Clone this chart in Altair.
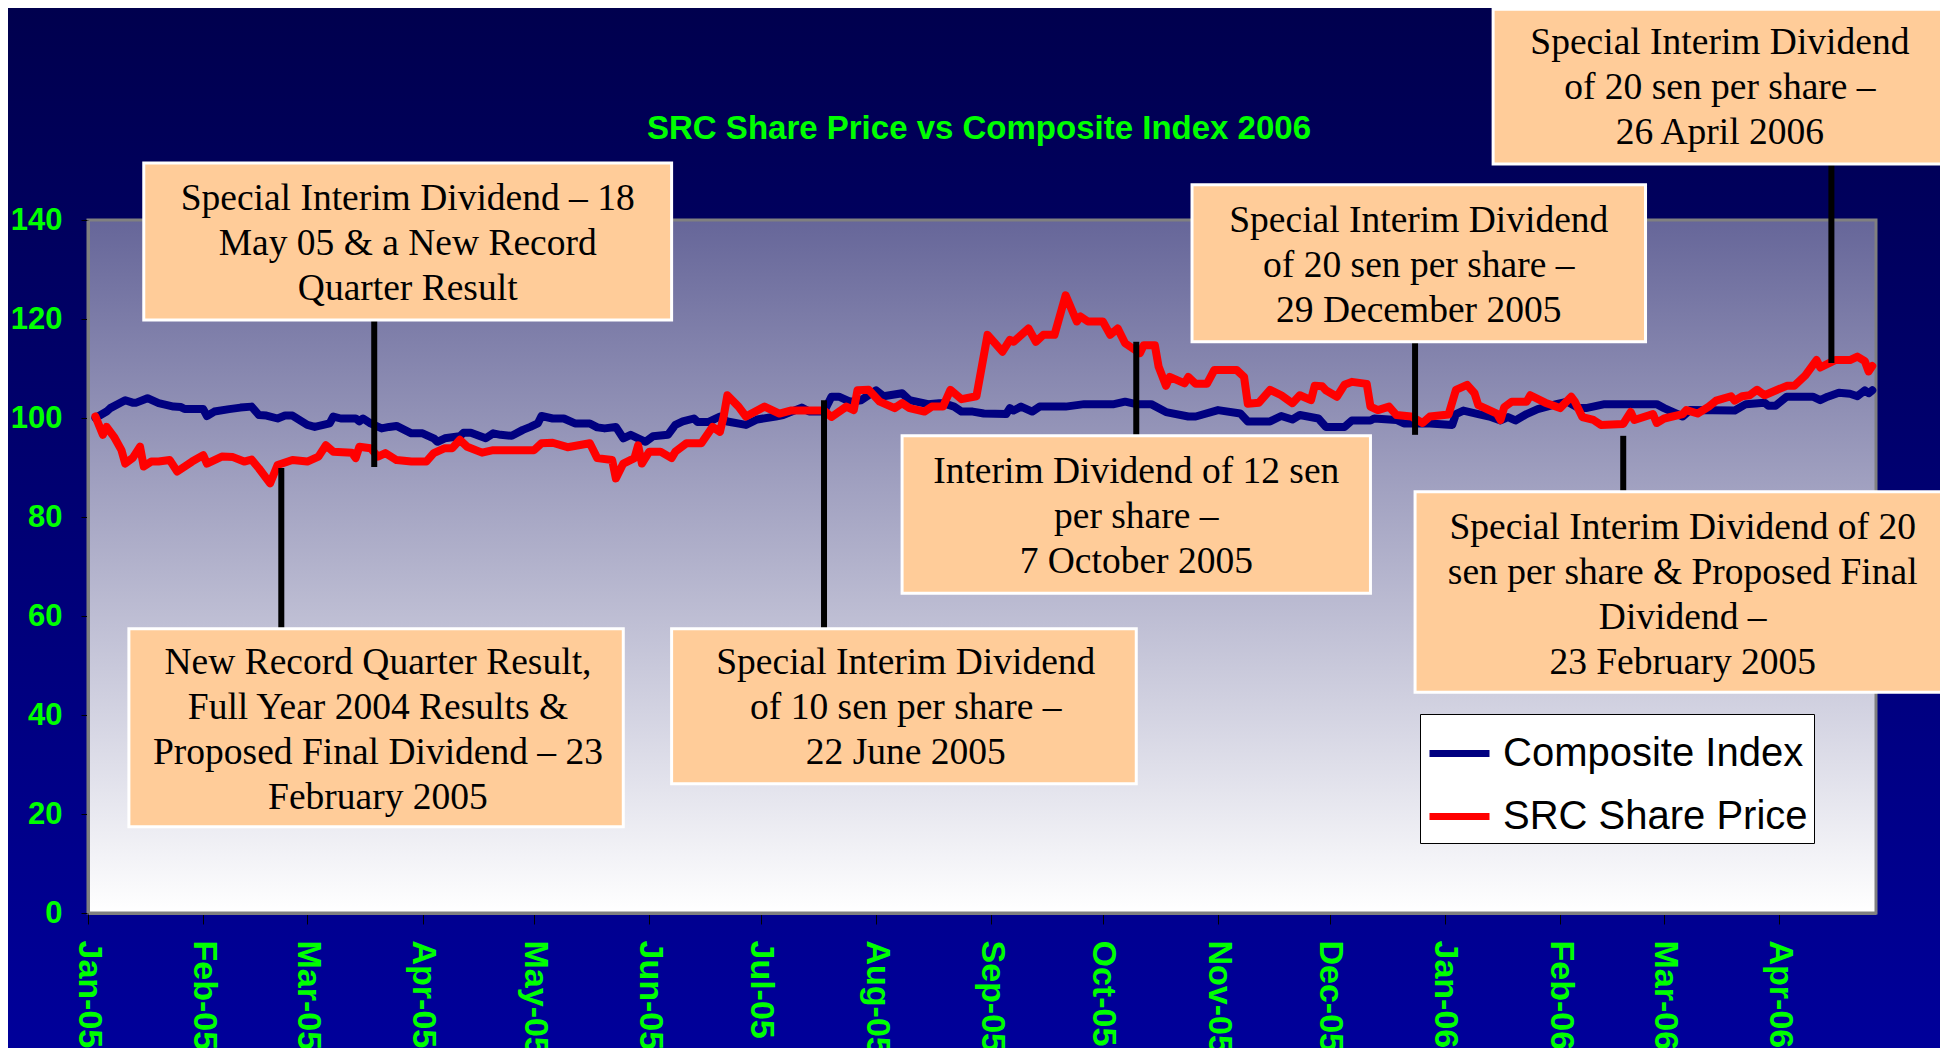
import altair as alt
import pandas as pd

# ---------------- data ----------------
CI_DATES = [
    "2005-01-03", "2005-01-06", "2005-01-07", "2005-01-11", "2005-01-13", "2005-01-14", "2005-01-17",
    "2005-01-20", "2005-01-24", "2005-01-26", "2005-01-27", "2005-02-01", "2005-02-02", "2005-02-04",
    "2005-02-08", "2005-02-11", "2005-02-14", "2005-02-16", "2005-02-18", "2005-02-21", "2005-02-23",
    "2005-02-25", "2005-03-01", "2005-03-03", "2005-03-07", "2005-03-08", "2005-03-10", "2005-03-14",
    "2005-03-15", "2005-03-16", "2005-03-18", "2005-03-21", "2005-03-23", "2005-03-25", "2005-03-29",
    "2005-04-01", "2005-04-04", "2005-04-05", "2005-04-07", "2005-04-11", "2005-04-12", "2005-04-14",
    "2005-04-18", "2005-04-20", "2005-04-22", "2005-04-25", "2005-04-28", "2005-04-30", "2005-05-02",
    "2005-05-03", "2005-05-06", "2005-05-09", "2005-05-12", "2005-05-16", "2005-05-18", "2005-05-20",
    "2005-05-23", "2005-05-25", "2005-05-27", "2005-05-31", "2005-06-02", "2005-06-06", "2005-06-08",
    "2005-06-10", "2005-06-13", "2005-06-14", "2005-06-17", "2005-06-20", "2005-06-22", "2005-06-27",
    "2005-06-30", "2005-07-05", "2005-07-07", "2005-07-12", "2005-07-14", "2005-07-18", "2005-07-20",
    "2005-07-22", "2005-07-25", "2005-07-28", "2005-08-01", "2005-08-03", "2005-08-08", "2005-08-10",
    "2005-08-15", "2005-08-18", "2005-08-19", "2005-08-22", "2005-08-24", "2005-08-27", "2005-08-30",
    "2005-09-05", "2005-09-06", "2005-09-07", "2005-09-09", "2005-09-12", "2005-09-14", "2005-09-21",
    "2005-09-26", "2005-10-04", "2005-10-07", "2005-10-10", "2005-10-14", "2005-10-18", "2005-10-24",
    "2005-10-26", "2005-11-01", "2005-11-07", "2005-11-09", "2005-11-15", "2005-11-18", "2005-11-21",
    "2005-11-23", "2005-11-28", "2005-11-30", "2005-12-05", "2005-12-07", "2005-12-12", "2005-12-13",
    "2005-12-19", "2005-12-21", "2005-12-28", "2006-01-03", "2006-01-04", "2006-01-06", "2006-01-10",
    "2006-01-13", "2006-01-16", "2006-01-18", "2006-01-20", "2006-01-23", "2006-01-26", "2006-01-31",
    "2006-02-03", "2006-02-06", "2006-02-08", "2006-02-13", "2006-02-27", "2006-03-01", "2006-03-06",
    "2006-03-08", "2006-03-20", "2006-03-23", "2006-03-28", "2006-03-29", "2006-03-31", "2006-04-03",
    "2006-04-10", "2006-04-12", "2006-04-14", "2006-04-17", "2006-04-20", "2006-04-22", "2006-04-24",
    "2006-04-25", "2006-04-26",
]
CI_VALUES = [
    100.0, 101.3, 102.0, 103.6, 103.1, 103.1, 104.0,
    103.0, 102.3, 102.2, 101.8, 101.8, 100.4, 101.3,
    101.8, 102.1, 102.3, 100.6, 100.5, 99.9, 100.5,
    100.5, 98.6, 98.2, 98.9, 100.3, 99.9, 99.9,
    99.3, 99.9, 98.9, 97.9, 98.2, 98.4, 96.9,
    96.9, 95.9, 95.2, 95.9, 96.3, 97.0, 97.0,
    95.9, 96.9, 96.6, 96.4, 97.6, 98.2, 98.9,
    100.4, 99.9, 99.9, 98.9, 98.9, 98.1, 97.9,
    98.2, 95.9, 96.6, 95.2, 96.3, 96.6, 98.6,
    99.3, 99.9, 99.2, 99.2, 100.3, 99.3, 98.6,
    99.7, 100.3, 100.6, 102.1, 101.3, 101.3, 104.3,
    104.3, 103.3, 103.6, 105.6, 104.4, 105.0, 103.6,
    102.8, 103.0, 103.0, 102.3, 101.3, 101.3, 100.9,
    100.8, 102.0, 101.5, 102.3, 101.3, 102.3, 102.3,
    102.8, 102.8, 103.3, 102.8, 102.8, 101.2, 100.3,
    100.3, 101.6, 100.9, 99.3, 99.3, 100.4, 99.7,
    100.6, 99.9, 98.2, 98.2, 99.5, 99.5, 99.9,
    99.6, 98.9, 98.9, 98.6, 100.8, 101.5, 100.8,
    100.3, 99.5, 100.2, 99.5, 100.8, 101.8, 102.8,
    103.3, 102.0, 102.0, 102.8, 102.8, 102.0, 100.3,
    101.6, 101.5, 102.8, 103.1, 102.5, 102.5, 104.3,
    104.3, 103.6, 104.3, 105.1, 104.9, 104.4, 105.6,
    105.0, 105.6,
]

SRC_DATES = [
    "2005-01-03", "2005-01-05", "2005-01-06", "2005-01-08", "2005-01-10", "2005-01-11", "2005-01-13",
    "2005-01-15", "2005-01-16", "2005-01-18", "2005-01-20", "2005-01-23", "2005-01-25", "2005-01-29",
    "2005-02-01", "2005-02-02", "2005-02-06", "2005-02-09", "2005-02-12", "2005-02-14", "2005-02-16",
    "2005-02-19", "2005-02-21", "2005-02-25", "2005-03-01", "2005-03-04", "2005-03-06", "2005-03-08",
    "2005-03-13", "2005-03-14", "2005-03-15", "2005-03-18", "2005-03-20", "2005-03-22", "2005-03-25",
    "2005-03-29", "2005-04-02", "2005-04-04", "2005-04-07", "2005-04-09", "2005-04-11", "2005-04-13",
    "2005-04-17", "2005-04-20", "2005-05-01", "2005-05-03", "2005-05-06", "2005-05-10", "2005-05-16",
    "2005-05-18", "2005-05-22", "2005-05-23", "2005-05-25", "2005-05-28", "2005-05-29", "2005-05-30",
    "2005-06-01", "2005-06-04", "2005-06-07", "2005-06-08", "2005-06-11", "2005-06-15", "2005-06-18",
    "2005-06-20", "2005-06-21", "2005-06-22", "2005-06-25", "2005-06-27", "2005-07-02", "2005-07-06",
    "2005-07-09", "2005-07-18", "2005-07-20", "2005-07-24", "2005-07-26", "2005-07-27", "2005-07-30",
    "2005-08-02", "2005-08-06", "2005-08-08", "2005-08-10", "2005-08-14", "2005-08-16", "2005-08-19",
    "2005-08-21", "2005-08-24", "2005-08-28", "2005-08-31", "2005-09-04", "2005-09-06", "2005-09-07",
    "2005-09-11", "2005-09-13", "2005-09-15", "2005-09-18", "2005-09-21", "2005-09-24", "2005-09-25",
    "2005-09-27", "2005-10-01", "2005-10-03", "2005-10-05", "2005-10-07", "2005-10-09", "2005-10-11",
    "2005-10-12", "2005-10-15", "2005-10-16", "2005-10-18", "2005-10-19", "2005-10-23", "2005-10-24",
    "2005-10-26", "2005-10-29", "2005-10-31", "2005-11-06", "2005-11-08", "2005-11-09", "2005-11-12",
    "2005-11-15", "2005-11-18", "2005-11-21", "2005-11-23", "2005-11-26", "2005-11-27", "2005-11-29",
    "2005-11-30", "2005-12-03", "2005-12-05", "2005-12-07", "2005-12-11", "2005-12-12", "2005-12-14",
    "2005-12-17", "2005-12-19", "2005-12-23", "2005-12-26", "2005-12-28", "2006-01-02", "2006-01-04",
    "2006-01-07", "2006-01-09", "2006-01-10", "2006-01-15", "2006-01-16", "2006-01-17", "2006-01-19",
    "2006-01-23", "2006-01-24", "2006-01-28", "2006-02-01", "2006-02-04", "2006-02-05", "2006-02-07",
    "2006-02-10", "2006-02-12", "2006-02-18", "2006-02-20", "2006-02-21", "2006-02-26", "2006-02-27",
    "2006-03-01", "2006-03-06", "2006-03-07", "2006-03-10", "2006-03-13", "2006-03-15", "2006-03-19",
    "2006-03-20", "2006-03-22", "2006-03-24", "2006-03-26", "2006-03-28", "2006-04-03", "2006-04-05",
    "2006-04-08", "2006-04-11", "2006-04-12", "2006-04-16", "2006-04-20", "2006-04-22", "2006-04-24",
    "2006-04-25", "2006-04-26",
]
SRC_VALUES = [
    100.3, 96.6, 98.2, 96.2, 93.5, 90.8, 91.9,
    94.2, 90.2, 91.2, 91.2, 91.5, 89.2, 91.2,
    92.5, 90.8, 92.2, 92.1, 91.2, 91.6, 89.8,
    86.8, 90.5, 91.5, 91.2, 92.2, 94.5, 93.2,
    93.0, 91.9, 94.2, 93.9, 92.2, 92.9, 91.5,
    91.2, 91.2, 92.9, 93.9, 93.9, 95.6, 94.2,
    93.0, 93.5, 93.5, 94.9, 95.0, 94.1, 94.9,
    91.9, 91.5, 87.8, 90.8, 91.9, 94.5, 90.8,
    93.2, 93.2, 91.9, 93.2, 94.9, 94.9, 98.2,
    97.2, 100.3, 104.6, 102.3, 100.3, 102.3, 100.9,
    101.5, 101.5, 100.2, 102.3, 101.6, 105.6, 105.7,
    103.3, 102.0, 103.0, 102.0, 101.3, 102.3, 102.3,
    105.7, 103.8, 104.4, 116.8, 113.4, 115.8, 115.4,
    118.1, 115.4, 116.8, 116.8, 124.8, 119.5, 120.5,
    119.5, 119.5, 116.8, 118.1, 115.1, 114.1, 113.1,
    114.7, 114.7, 110.4, 106.5, 108.3, 107.0, 108.3,
    106.9, 106.9, 109.7, 109.7, 108.3, 102.9, 103.1,
    105.7, 104.6, 103.0, 104.6, 103.6, 106.5, 106.4,
    105.6, 104.3, 106.7, 107.3, 106.9, 102.3, 101.6,
    102.3, 100.6, 100.3, 99.0, 100.3, 100.7, 105.7,
    106.7, 105.0, 102.6, 100.9, 99.6, 102.2, 103.3,
    103.3, 104.6, 103.1, 102.0, 104.3, 103.3, 100.2,
    99.6, 98.6, 98.8, 101.2, 99.6, 100.8, 99.0,
    99.9, 100.8, 101.6, 100.9, 102.3, 103.5, 104.4,
    103.5, 104.4, 104.6, 105.7, 104.6, 106.5, 106.5,
    108.6, 111.7, 110.2, 111.7, 111.7, 112.4, 111.5,
    109.4, 110.5,
]

SERIES = ["Composite Index", "SRC Share Price"]
SERIES_COLORS = ["#000080", "#FF0000"]
TITLE = "SRC Share Price vs Composite Index 2006"
MONTH_TICKS = [(2005, m) for m in range(1, 13)] + [(2006, m) for m in range(1, 5)]
Y_TICKS = [0, 20, 40, 60, 80, 100, 120, 140]

# annotation callouts: box corners and first-line anchor in data space
NOTE_TEXT = [
    ["Special Interim Dividend \u2013 18", "May 05 & a New Record", "Quarter Result"],
    ["New Record Quarter Result,", "Full Year 2004 Results &", "Proposed Final Dividend \u2013 23", "February 2005"],
    ["Special Interim Dividend", "of 10 sen per share \u2013", "22 June 2005"],
    ["Interim Dividend of 12 sen", "per share \u2013", "7 October 2005"],
    ["Special Interim Dividend", "of 20 sen per share \u2013", "29 December 2005"],
    ["Special Interim Dividend  of 20", "sen per share & Proposed Final", "Dividend \u2013", "23 February 2005"],
    ["Special Interim Dividend", "of 20 sen per share \u2013", "26 April 2006"],
]
NOTE_X1 = ["2005-01-16", "2005-01-12", "2005-06-07", "2005-08-08", "2005-10-25", "2005-12-24", "2006-01-14"]
NOTE_X2 = ["2005-06-07", "2005-05-25", "2005-10-10", "2005-12-12", "2006-02-24", "2006-05-15", "2006-05-15"]
NOTE_TOP = [151.5, 57.4, 57.4, 96.4, 147.1, 85.1, 182.6]
NOTE_BOTTOM = [119.8, 17.4, 26.1, 64.6, 115.4, 44.6, 151.3]
NOTE_TX = ["2005-03-28", "2005-03-20", "2005-08-09", "2005-10-10", "2005-12-25", "2006-03-06", "2006-03-16"]
NOTE_TY = [144.2, 50.5, 50.5, 89.1, 139.8, 77.8, 175.7]
LEADER_X = ["2005-03-19", "2005-02-22", "2005-07-18", "2005-10-10", "2005-12-24", "2006-02-18", "2006-04-15"]
LEADER_Y1 = [119.8, 89.9, 103.6, 115.4, 115.4, 96.4, 151.3]
LEADER_Y2 = [90.1, 57.4, 57.4, 96.4, 96.6, 85.3, 111.1]

# ---------------- tables ----------------
lines_df = pd.concat([
    pd.DataFrame({"date": pd.to_datetime(CI_DATES), "value": CI_VALUES, "series": SERIES[0]}),
    pd.DataFrame({"date": pd.to_datetime(SRC_DATES), "value": SRC_VALUES, "series": SERIES[1]}),
], ignore_index=True)

notes_df = pd.DataFrame({
    "x1": pd.to_datetime(NOTE_X1), "x2": pd.to_datetime(NOTE_X2),
    "top": NOTE_TOP, "bottom": NOTE_BOTTOM,
    "tx": pd.to_datetime(NOTE_TX), "ty": NOTE_TY, "text": NOTE_TEXT,
})
leaders_df = pd.DataFrame({"x": pd.to_datetime(LEADER_X), "y1": LEADER_Y1, "y2": LEADER_Y2})

# ---------------- styling ----------------
W, H = 1788, 693
PAD = {"left": 80, "top": 212, "right": 64, "bottom": 135}
SANS = "Liberation Sans, Arial, Helvetica, sans-serif"
SERIF = "Liberation Serif, Times New Roman, serif"
GREEN = "#00FF00"

xscale = alt.Scale(domain=[alt.DateTime(year=2005, month=1, date=1),
                           alt.DateTime(year=2006, month=4, date=27)], nice=False)
yscale = alt.Scale(domain=[0, 140], nice=False)

xaxis = alt.Axis(
    values=[alt.DateTime(year=y, month=m, date=1) for y, m in MONTH_TICKS],
    format="%b-%y", labelAngle=90, labelFont=SANS, labelFontSize=34, labelFontWeight="bold",
    labelColor=GREEN, labelPadding=16, tickSize=11, tickColor="#000000", tickWidth=1,
    domainColor="#808080", domainWidth=3, grid=False, title=None, zindex=1,
    labelOverlap=False, labelFlush=False, labelBound=False,
)
yaxis = alt.Axis(
    values=Y_TICKS, labelFont=SANS, labelFontSize=31, labelFontWeight="bold",
    labelColor=GREEN, labelPadding=19, tickSize=7, tickColor="#000000", tickWidth=1,
    domainColor="#808080", domainWidth=3, grid=False, title=None, zindex=1,
    labelOverlap=False, labelFlush=False, labelBound=False,
)

one = pd.DataFrame({"k": [0]})

outer_bg = alt.Chart(one).mark_rect(
    fill=alt.LinearGradient(gradient="linear", x1=0, x2=0, y1=0, y2=1,
                            stops=[alt.GradientStop(color="#00004E", offset=0),
                                   alt.GradientStop(color="#00009A", offset=1)])
).encode(x=alt.value(-PAD["left"]), x2=alt.value(W + PAD["right"]),
         y=alt.value(-PAD["top"]), y2=alt.value(H + PAD["bottom"]))

plot_bg = alt.Chart(one).mark_rect(
    fill=alt.LinearGradient(gradient="linear", x1=0, x2=0, y1=0, y2=1,
                            stops=[alt.GradientStop(color="#666699", offset=0),
                                   alt.GradientStop(color="#FFFFFF", offset=1)]),
    stroke="#808080", strokeWidth=3,
).encode(x=alt.value(0), x2=alt.value(W), y=alt.value(0), y2=alt.value(H))

lines = alt.Chart(lines_df).mark_line(strokeWidth=8, strokeCap="round", strokeJoin="round").encode(
    x=alt.X("date:T", scale=xscale, axis=xaxis),
    y=alt.Y("value:Q", scale=yscale, axis=yaxis),
    color=alt.Color("series:N", scale=alt.Scale(domain=SERIES, range=SERIES_COLORS),
                    legend=alt.Legend(
                        title=None, orient="none", legendX=1332, legendY=494, direction="vertical",
                        symbolType="stroke", symbolStrokeWidth=7, symbolSize=3600,
                        labelFont=SANS, labelFontSize=40, labelColor="#000000", labelOffset=10,
                        fillColor="#FFFFFF", strokeColor="#000000", padding=6, rowPadding=9,
                        labelLimit=0,
                    )),
)

leaders = alt.Chart(leaders_df).mark_rule(color="#000000", strokeWidth=6).encode(
    x=alt.X("x:T", scale=xscale, axis=xaxis),
    y=alt.Y("y1:Q", scale=yscale, axis=yaxis),
    y2="y2:Q",
)

boxes = alt.Chart(notes_df).mark_rect(fill="#FFCC99", stroke="#FFFFFF", strokeWidth=3).encode(
    x=alt.X("x1:T", scale=xscale, axis=xaxis), x2="x2:T",
    y=alt.Y("top:Q", scale=yscale, axis=yaxis), y2="bottom:Q",
)

texts = alt.Chart(notes_df).mark_text(
    font=SERIF, fontSize=37.5, lineHeight=45, align="center", baseline="middle", color="#000000"
).encode(
    x=alt.X("tx:T", scale=xscale, axis=xaxis),
    y=alt.Y("ty:Q", scale=yscale, axis=yaxis),
    text="text",
)

title = alt.Chart(one).mark_text(
    text=TITLE, font=SANS, fontSize=33, fontWeight="bold", color=GREEN,
    align="center", baseline="middle",
).encode(x=alt.value(W / 2 - 3), y=alt.value(-91))

chart = alt.layer(outer_bg, plot_bg, lines, leaders, boxes, texts, title).properties(
    width=W, height=H, autosize=alt.AutoSizeParams(type="none"), padding=PAD,
    background="#000066",
).configure_view(stroke=None)

chart.save("out.html", embed_options={"renderer": "svg", "actions": False})
